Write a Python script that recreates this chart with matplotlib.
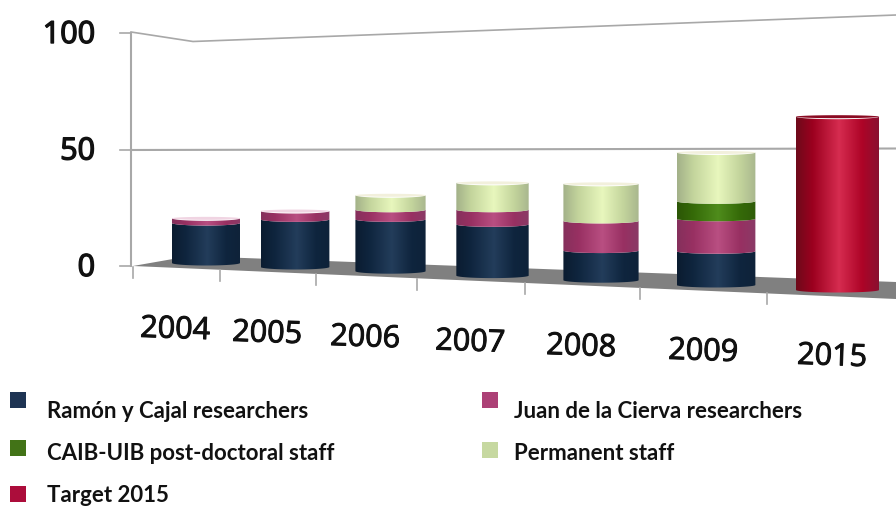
import numpy as np
import matplotlib
matplotlib.use("Agg")
import matplotlib.pyplot as plt
import matplotlib.patheffects as pe
from matplotlib.colors import LinearSegmentedColormap
from matplotlib.patches import PathPatch, Polygon, Rectangle
from matplotlib.path import Path

## Data
years = ["2004", "2005", "2006", "2007", "2008", "2009", "2015"]
ramon = [17, 20, 21.5, 21, 12, 13.5, 0]
juan = [2, 3.5, 4, 6, 12, 13, 0]
caib = [0, 0, 0, 0, 0, 7, 0]
permanent = [0, 0, 6, 11, 15, 19.5, 0]
target = [0, 0, 0, 0, 0, 0, 68.5]
y_ticks = [0, 50, 100]
names = ["Ramón y Cajal researchers", "Juan de la Cierva researchers",
         "CAIB-UIB post-doctoral staff", "Permanent staff", "Target 2015"]

## Colours: edge, body, highlight, body, edge
shades = {
    "ramon": ["#0b1c30", "#0f253e", "#233d5b", "#0f253e", "#0e2239"],
    "juan": ["#85305c", "#983062", "#b94f82", "#983062", "#8a3a66"],
    "caib": ["#2c5606", "#356a08", "#4f8c1c", "#356a08", "#2f5c08"],
    "permanent": ["#a3b189", "#c3d49c", "#e8f7bd", "#c3d49c", "#a9b78e"],
    "target": ["#6e0a1a", "#9c001f", "#d62c50", "#ae0427", "#8a1030"],
}
caps = {"ramon": "#2a4562", "juan": "#f0d4e2", "caib": "#6a9a3a",
        "permanent": "#f2f0dc", "target": "#8a0a22"}
legend_cols = ["#12294a", "#a8356f", "#386b0a", "#c3d69b", "#a80030"]
grey = "#a8a8a8"

plt.rcParams["font.family"] = ["Open Sans", "DejaVu Sans"]

fig = plt.figure(figsize=(8.96, 5.07), dpi=100)
ax = fig.add_axes([0, 0, 1, 1])


## perspective: things further right are closer to the viewer
def center_x(i):
    return 206 + 85.75 * i + 3.25 * i ** 2


def half_w(i):
    return 34 + 0.2 * i + 0.175 * i ** 2


def base_y(i):
    return 263 + 3.9 * i + 0.1 * i ** 2


def unit_px(i):
    return 2.35 + 0.03 * i


def segment(i, v0, v1, name):
    cx, w, ry = center_x(i), half_w(i), 2.5
    y0 = base_y(i) - v0 * unit_px(i)
    y1 = base_y(i) - v1 * unit_px(i)
    t = np.linspace(np.pi, 0, 40)
    top = np.column_stack([cx + w * np.cos(t), y1 + ry * np.sin(t)])
    bottom = np.column_stack([cx + w * np.cos(t[::-1]), y0 + ry * np.sin(t[::-1])])
    pts = np.vstack([top, bottom, top[:1]])
    patch = PathPatch(Path(pts), fc="none", ec="none", transform=ax.transData)
    ax.add_patch(patch)
    cmap = LinearSegmentedColormap.from_list(name, list(zip([0, 0.2, 0.52, 0.8, 1], shades[name])))
    grad = np.linspace(0, 1, 128).reshape(1, -1)
    im = ax.imshow(grad, cmap=cmap, aspect="auto", zorder=3 + i * 0.1,
                   extent=(cx - w, cx + w, y0 + ry + 1, y1 - ry - 1))
    im.set_clip_path(patch)


def cap(i, v, name):
    cx, w, ry = center_x(i), half_w(i), 1.5
    y = base_y(i) - v * unit_px(i)
    t = np.linspace(0, 2 * np.pi, 60)
    ax.fill(cx + w * np.cos(t), y + ry * np.sin(t), color=caps[name], lw=0, zorder=3.05 + i * 0.1)


## floor and walls
ax.add_patch(Polygon([(133, 266), (190, 256), (896, 282), (896, 299)], fc="#808080", ec="none", zorder=1))
ax.plot([131, 193, 896], [32, 41.5, 15], color=grey, lw=1.2, zorder=1)
ax.plot([131, 896], [150, 148.5], color=grey, lw=1.5, zorder=1)
ax.plot([131, 131], [33, 266], color=grey, lw=1.5, zorder=1)

## y axis
for v in y_ticks:
    y = 266 - v * 2.33
    ax.plot([120, 131], [y, y], color=grey, lw=1.2, zorder=1)
    ax.text(95, y + 2, str(v), ha="right", va="center", fontsize=22, color="#111111",
            path_effects=[pe.withStroke(linewidth=1.0, foreground="#111111")])

## x axis
for x in [133, 220, 316, 417, 525, 640, 767]:
    y = 266.5 + 0.0425 * (x - 133)
    ax.plot([x, x], [y, y + 11], color=grey, lw=1.2, zorder=1)

label_x = [175, 267, 365, 470, 581, 703, 832]
for i, yr in enumerate(years):
    ax.text(label_x[i], 330 + 3.9 * i + 0.1 * i ** 2, yr, ha="center", va="center",
            fontsize=22, rotation=-2, color="#111111", rotation_mode="anchor",
            path_effects=[pe.withStroke(linewidth=0.7, foreground="#111111")])

## stacked cylinders
series = [("ramon", ramon), ("juan", juan), ("caib", caib), ("permanent", permanent), ("target", target)]
for i in range(len(years)):
    total = 0
    last = None
    for name, vals in series:
        if vals[i] > 0:
            segment(i, total, total + vals[i], name)
            total = total + vals[i]
            last = name
    cap(i, total, last)

## legend, drawn by hand because the squares sit above the text
sq = [(10, 392), (482, 392), (10, 440), (482, 442), (10, 486)]
txt = [(47, 412), (514, 412), (47, 453), (514, 453), (47, 495)]
for k in range(len(names)):
    ax.add_patch(Rectangle(sq[k], 15.5, 16, fc=legend_cols[k], ec="none", alpha=0.95))
    ax.text(txt[k][0], txt[k][1], names[k], ha="left", va="center", fontsize=16,
            fontweight="bold", family=["Lato", "DejaVu Sans"], color="#111111")

ax.set_xlim(0, 896)
ax.set_ylim(507, 0)
ax.axis("off")
fig.savefig("out.png", dpi=100)
